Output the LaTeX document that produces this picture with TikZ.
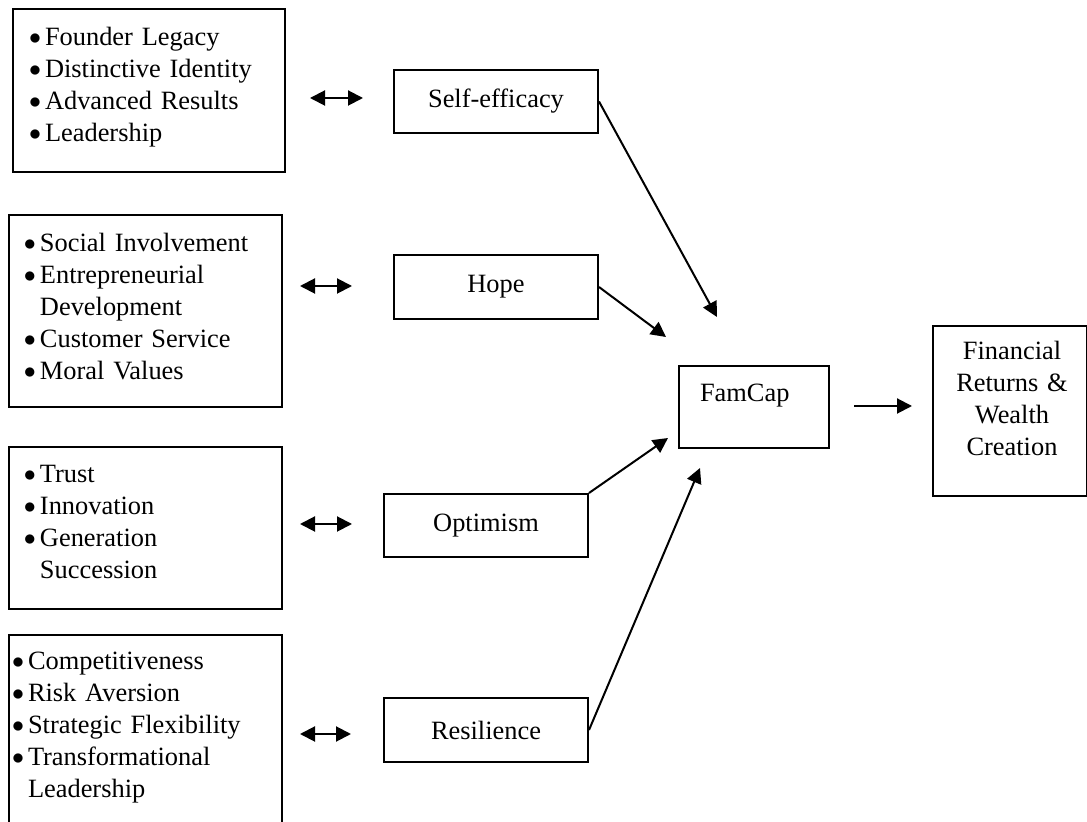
\documentclass[tikz,border=0pt]{standalone}
\usepackage{fontspec}
\setmainfont{Liberation Serif}
\usetikzlibrary{arrows.meta}

\newcommand{\lbul}{\makebox[8pt][l]{\raisebox{0.6pt}{$\bullet$}}}
\newcommand{\lind}{\hspace*{8pt}}

\begin{document}
\begin{tikzpicture}[x=0.5pt,y=-0.5pt,line width=1pt,
	>={Triangle[length=7.5pt,width=7.5pt]},
	font=\fontsize{13.2}{16}\selectfont,
	box node/.style={draw,rectangle,anchor=north west,inner sep=0pt},
	list text/.style={anchor=base west,align=left,text width=130pt,inner sep=0pt}]
	
	\useasboundingbox (0,0) rectangle (1087,822);
	
	% left boxes with the lists
	\node[box node, minimum width=136pt, minimum height=81.5pt] (l1) at (12,8) {};
	\node[box node, minimum width=136.5pt, minimum height=96pt] (l2) at (8,214) {};
	\node[box node, minimum width=136.5pt, minimum height=81pt] (l3) at (8,446) {};
	\node[box node, minimum width=136.5pt, minimum height=108pt] (l4) at (8,634) {};
	
	\node[list text] (t1) at (28,46) {\lbul Founder Legacy\\ \lbul Distinctive Identity\\ \lbul Advanced Results\\ \lbul Leadership};
	\node[list text] (t2) at (23,252) {\lbul Social Involvement\\ \lbul Entrepreneurial\\ \lind Development\\ \lbul Customer Service\\ \lbul Moral Values};
	\node[list text] (t3) at (23,483) {\lbul Trust\\ \lbul Innovation\\ \lbul Generation\\ \lind Succession};
	\node[list text] (t4) at (11,670) {\lbul Competitiveness\\ \lbul Risk Aversion\\ \lbul Strategic Flexibility\\ \lbul Transformational\\ \lind Leadership};
	
	% middle boxes
	\node[box node, minimum width=102pt, minimum height=31.5pt] (se) at (393,69) {Self-efficacy};
	\node[box node, minimum width=102pt, minimum height=32pt] (hope) at (393,254) {Hope};
	\node[box node, minimum width=102pt, minimum height=31.5pt] (opt) at (383,493) {Optimism};
	\node[box node, minimum width=102pt, minimum height=32pt] (res) at (383,697) {Resilience};
	
	% right side
	\node[box node, minimum width=75pt, minimum height=41pt] (fc) at (678,365) {};
	\node[anchor=base west, inner sep=0pt] (fctext) at (699,402) {FamCap};
	\node[box node, minimum width=77pt, minimum height=85pt] (fin) at (932,325) {};
	\node[anchor=base, align=center, text width=77pt, inner sep=0pt] (fintext) at (1012,360) {Financial\\ Returns \&\\ Wealth\\ Creation};
	
	% free ends of the arrows
	\coordinate (a1) at (310,98);  \coordinate (b1) at (363,98);
	\coordinate (a2) at (300,286); \coordinate (b2) at (352,286);
	\coordinate (a3) at (300,524); \coordinate (b3) at (352,524);
	\coordinate (a4) at (300,734); \coordinate (b4) at (351,734);
	\coordinate (pse) at (717,317);
	\coordinate (phope) at (666,337);
	\coordinate (popt) at (668,438);
	\coordinate (pres) at (700,468);
	\coordinate (fa) at (854,406); \coordinate (fb) at (912,406);
	
	\draw[<->] (a1) -- (b1);
	\draw[<->] (a2) -- (b2);
	\draw[<->] (a3) -- (b3);
	\draw[<->] (a4) -- (b4);
	
	\draw[->] (se.east) -- (pse);
	\draw[->] (hope.east) -- (phope);
	\draw[->] (opt.north east) -- (popt);
	\draw[->] (res.east) -- (pres);
	\draw[->] (fa) -- (fb);
\end{tikzpicture}
\end{document}
